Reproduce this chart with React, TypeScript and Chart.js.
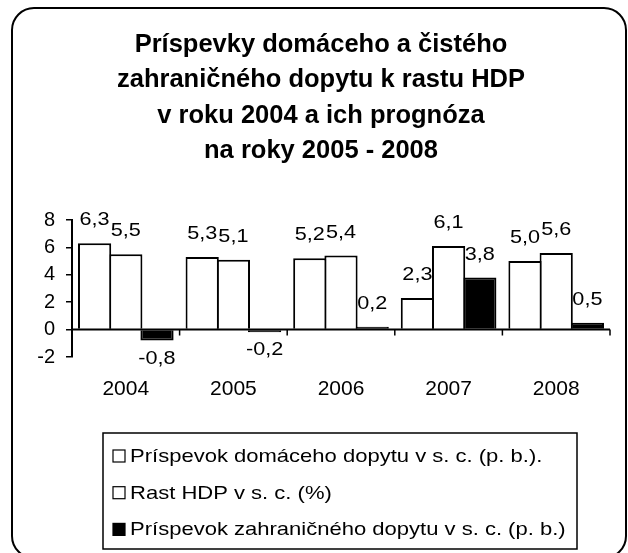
import React, { useEffect, useRef } from 'react';
import { Chart, registerables } from 'chart.js';

Chart.register(...registerables);

const categories = ['2004', '2005', '2006', '2007', '2008'];
const domesticContribution = [6.3, 5.3, 5.2, 2.3, 5.0];
const gdpGrowth = [5.5, 5.1, 5.4, 6.1, 5.6];
const foreignContribution = [-0.8, -0.2, 0.2, 3.8, 0.5];
const seriesLabels = [
  'Príspevok domáceho dopytu v s. c. (p. b.).',
  'Rast HDP v s. c. (%)',
  'Príspevok zahraničného dopytu v s. c. (p. b.)',
];
const seriesColors = ['#ffffff', '#ffffff', '#000000'];
const titleLines = [
  'Príspevky domáceho a čistého',
  'zahraničného dopytu k rastu HDP',
  'v roku 2004 a ich prognóza',
  'na roky 2005 - 2008',
];
const yMin = -2;
const yMax = 8;
const yStep = 2;

const FONT = '"Liberation Sans", Arial, Helvetica, sans-serif';

const fmt = (v: number) => v.toFixed(1).replace('.', ',');

const framePlugin = {
  id: 'roundFrame',
  afterDraw(chart: any) {
    const ctx = chart.ctx;
    const x = 12, y = 8, w = 614, h = 550, r = 22;
    ctx.save();
    ctx.strokeStyle = '#000';
    ctx.lineWidth = 2;
    ctx.beginPath();
    ctx.moveTo(x + r, y);
    ctx.lineTo(x + w - r, y);
    ctx.arcTo(x + w, y, x + w, y + r, r);
    ctx.lineTo(x + w, y + h - r);
    ctx.arcTo(x + w, y + h, x + w - r, y + h, r);
    ctx.lineTo(x + r, y + h);
    ctx.arcTo(x, y + h, x, y + h - r, r);
    ctx.lineTo(x, y + r);
    ctx.arcTo(x, y, x + r, y, r);
    ctx.closePath();
    ctx.stroke();
    ctx.restore();
  },
};

const zeroAxisPlugin = {
  id: 'zeroAxis',
  afterDatasetsDraw(chart: any) {
    const { ctx, scales } = chart;
    const xs = scales.x;
    const ys = scales.y;
    const y0 = ys.getPixelForValue(0);
    const n = categories.length;
    ctx.save();
    ctx.strokeStyle = '#000';
    ctx.lineWidth = 2;
    ctx.beginPath();
    ctx.moveTo(xs.left, y0);
    ctx.lineTo(xs.right, y0);
    ctx.stroke();
    ctx.lineWidth = 1.5;
    ctx.beginPath();
    for (let i = 1; i <= n; i++) {
      const bx = xs.left + (i * xs.width) / n;
      ctx.moveTo(bx, y0);
      ctx.lineTo(bx, y0 + 6);
    }
    ctx.stroke();
    ctx.restore();
  },
};

const stretchText = (ctx: any, text: string, x: number, y: number, sx: number) => {
  ctx.save();
  ctx.translate(x, y);
  ctx.scale(sx, 1);
  ctx.fillText(text, 0, 0);
  ctx.restore();
};

const valueLabelPlugin = {
  id: 'valueLabels',
  afterDatasetsDraw(chart: any) {
    const ctx = chart.ctx;
    ctx.save();
    ctx.fillStyle = '#000';
    ctx.font = `18.5px ${FONT}`;
    ctx.textAlign = 'center';
    ctx.textBaseline = 'middle';
    chart.data.datasets.forEach((ds: any, i: number) => {
      const meta = chart.getDatasetMeta(i);
      meta.data.forEach((bar: any, j: number) => {
        const v = ds.data[j];
        const y = v >= 0 ? bar.y - 23 : bar.y + 18;
        stretchText(ctx, fmt(v), bar.x, y, 1.17);
      });
    });
    ctx.restore();
  },
};

const boxLegendPlugin = {
  id: 'boxLegend',
  afterDraw(chart: any) {
    const ctx = chart.ctx;
    const left = 103, top = 433, right = 577, bottom = 549;
    ctx.save();
    ctx.strokeStyle = '#000';
    ctx.lineWidth = 1.5;
    ctx.strokeRect(left, top, right - left, bottom - top);
    ctx.font = `18.5px ${FONT}`;
    ctx.textAlign = 'left';
    ctx.textBaseline = 'alphabetic';
    chart.data.datasets.forEach((ds: any, i: number) => {
      const baseline = top + 29 + i * 36.7;
      const sq = 12;
      ctx.fillStyle = ds.backgroundColor;
      ctx.fillRect(113, baseline - sq, sq, sq);
      ctx.lineWidth = 1.2;
      ctx.strokeStyle = '#000';
      ctx.strokeRect(113, baseline - sq, sq, sq);
      ctx.fillStyle = '#000';
      stretchText(ctx, ds.label, 130, baseline, 1.19);
    });
    ctx.restore();
  },
};

export default function App() {
  const canvasRef = useRef<HTMLCanvasElement | null>(null);

  useEffect(() => {
    const canvas = canvasRef.current;
    if (!canvas) return;
    const values = [domesticContribution, gdpGrowth, foreignContribution];
    const chart = new Chart(canvas, {
      type: 'bar',
      data: {
        labels: categories,
        datasets: values.map((d, i) => ({
          label: seriesLabels[i],
          data: d,
          backgroundColor: seriesColors[i],
          borderColor: '#000',
          borderWidth: 2,
          barPercentage: 1.065,
          categoryPercentage: 0.87,
        })),
      },
      options: {
        responsive: false,
        animation: false,
        events: [],
        layout: { padding: { left: 32, right: 18, top: 0, bottom: 131 } },
        plugins: {
          legend: { display: false },
          tooltip: { enabled: false },
          title: {
            display: true,
            text: titleLines,
            color: '#000',
            font: { family: FONT, size: 25.5, weight: 'bold', lineHeight: 35.5 / 25.5 },
            padding: { top: 27, bottom: 51 },
          },
        },
        scales: {
          x: {
            grid: { display: false, drawTicks: false },
            border: { display: false },
            ticks: { color: '#000', font: { family: FONT, size: 21 }, padding: 20 },
            afterFit: (s: any) => { s.height = 65; },
          },
          y: {
            min: yMin,
            max: yMax,
            grid: { drawOnChartArea: false, drawTicks: true, tickLength: 6, color: '#000', lineWidth: 1.5 },
            border: { display: true, color: '#000', width: 2 },
            ticks: { stepSize: yStep, color: '#000', font: { family: FONT, size: 20 }, padding: 11 },
            afterFit: (s: any) => { s.width = 40; },
          },
        },
      },
      plugins: [zeroAxisPlugin, valueLabelPlugin, boxLegendPlugin, framePlugin],
    });
    return () => chart.destroy();
  }, []);

  return (
    <div style={{ position: 'fixed', left: 0, top: 0, width: 628, height: 553, background: '#fff' }}>
      <canvas ref={canvasRef} width={628} height={553} style={{ display: 'block' }} />
    </div>
  );
}
